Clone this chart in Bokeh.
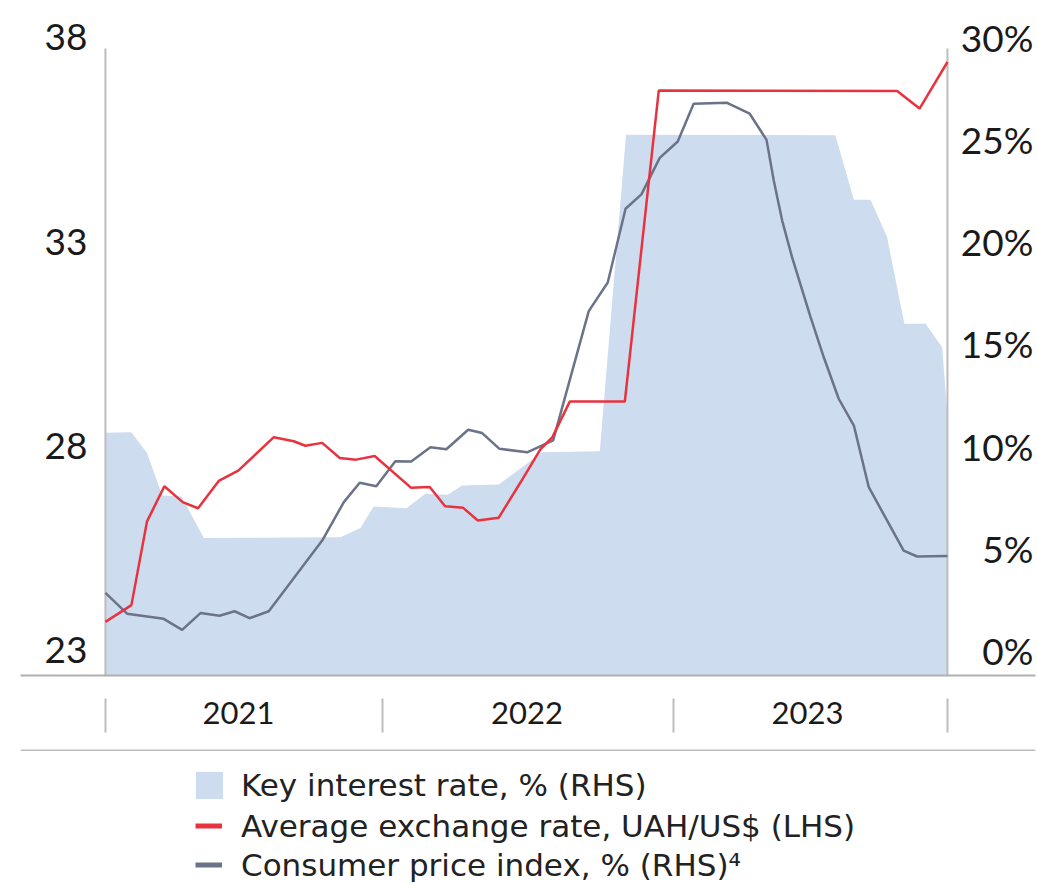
from bokeh.plotting import figure
from bokeh.layouts import column
from bokeh.models import (Range1d, FixedTicker, Legend, LegendItem,
                          ColumnDataSource, LabelSet)
from bokeh.core.properties import value
from bokeh.embed import file_html
from bokeh.resources import INLINE

# x positions: months since January 2021 (0) to December 2023 (35)
key_month = [0, 1.08, 1.73, 2.36, 3.16, 4.09, 9.77, 10.60, 11.15, 12.51, 13.30, 14.23,
             14.83, 16.35, 18.15, 20.55, 21.64, 30.34, 31.11, 31.80, 32.49, 33.21,
             34.09, 34.78, 35.0]
key_rate = [10.65, 10.68, 9.66, 7.59, 7.54, 5.51, 5.54, 6.00, 7.05, 6.96, 7.67, 7.62,
            8.07, 8.12, 9.70, 9.75, 25.24, 25.22, 22.06, 22.06, 20.23, 15.99,
            15.99, 14.84, 11.5]

fx_month = [0, 1.08, 1.73, 2.45, 3.21, 3.85, 4.71, 5.52, 7.00, 7.83, 8.31, 9.01, 9.74,
            10.42, 11.19, 12.71, 13.48, 14.12, 14.87, 15.48, 16.35, 17.25, 18.08,
            18.58, 19.30, 21.59, 23.00, 32.91, 33.84, 35.0]
fx_rate = [23.70, 24.11, 26.16, 27.02, 26.63, 26.48, 27.15, 27.40, 28.22, 28.12, 28.01,
           28.08, 27.71, 27.67, 27.76, 26.98, 27.00, 26.53, 26.49, 26.18, 26.25, 27.11,
           27.92, 28.22, 29.09, 29.09, 36.70, 36.69, 36.26, 37.40]

cpi_month = [0, 0.90, 2.42, 3.19, 3.95, 4.74, 5.37, 5.99, 6.79, 9.01, 9.91, 10.57, 11.26,
             12.05, 12.71, 13.51, 14.17, 15.08, 15.66, 16.38, 17.53, 18.61, 20.09, 20.88,
             21.62, 22.28, 23.04, 23.79, 24.45, 25.84, 26.78, 27.48, 27.78, 28.13, 28.54,
             29.31, 29.86, 30.48, 31.11, 31.73, 33.18, 33.74, 35.0]
cpi_rate = [2.82, 1.80, 1.55, 1.01, 1.83, 1.70, 1.92, 1.58, 1.92, 5.38, 7.26, 8.21, 8.04,
            9.26, 9.25, 9.95, 9.85, 10.80, 10.64, 9.87, 9.70, 10.28, 16.61, 18.01,
            21.62, 22.32, 24.11, 24.91, 26.76, 26.80, 26.27, 24.99, 23.00, 21.04, 19.25,
            16.31, 14.35, 12.32, 11.01, 7.99, 4.89, 4.60, 4.63]

years = ["2021", "2022", "2023"]
year_label_pos = [5.53, 17.52, 29.18]
year_bounds = [0, 11.5, 23.6, 35]
lhs_ticks = [23, 28, 33, 38]
rhs_ticks = [0, 5, 10, 15, 20, 25, 30]

labels = ["Key interest rate, % (RHS)",
          "Average exchange rate, UAH/US$ (LHS)",
          "Consumer price index, % (RHS)\u2074"]

BLUE = "#cddcee"
RED = "#e8333f"
SLATE = "#6b7389"
RULE = "#bdbdbd"
INK = "#1a1a1a"
FONT = "Lato"
LEG_FONT = "DejaVu Sans"

X_START, X_END = -3.53, 38.66
LHS_START, LHS_END = 22.388, 38.905
RHS_START, RHS_END = 2 * (LHS_START - 23), 2 * (LHS_END - 23)
AXIS_TOP = 37.73

p = figure(width=1037, height=749, output_backend="svg", toolbar_location=None,
           x_range=Range1d(X_START, X_END), y_range=Range1d(LHS_START, LHS_END),
           y_axis_location=None,
           min_border_left=20, min_border_right=2, min_border_top=0,
           min_border_bottom=74)
p.extra_y_ranges = {"rhs": Range1d(RHS_START, RHS_END)}
p.outline_line_color = None
p.grid.visible = False
p.background_fill_color = "white"
p.border_fill_color = "white"

area = p.varea(x=key_month, y1=RHS_START, y2=key_rate, y_range_name="rhs",
               fill_color=BLUE)
# vertical axis rules at the start and end of the period
p.segment(x0=[year_bounds[0], year_bounds[-1]], x1=[year_bounds[0], year_bounds[-1]],
          y0=LHS_START, y1=AXIS_TOP, line_color=RULE, line_width=2)
p.line(x=cpi_month, y=cpi_rate, y_range_name="rhs", line_color=SLATE, line_width=2.5)
p.line(x=fx_month, y=fx_rate, line_color=RED, line_width=2.5)

# left axis labels (LHS)
lsrc = ColumnDataSource(dict(x=[year_bounds[0]] * len(lhs_ticks), y=lhs_ticks,
                             text=[str(t) for t in lhs_ticks]))
p.add_layout(LabelSet(x="x", y="y", text="text", source=lsrc, x_offset=-18,
                      text_align="right", text_baseline="middle",
                      text_font=value(FONT), text_font_size=value("37px"),
                      text_color=INK))
# right axis labels (RHS)
rsrc = ColumnDataSource(dict(x=[year_bounds[-1]] * len(rhs_ticks), y=rhs_ticks,
                             text=[f"{t}%" for t in rhs_ticks]))
p.add_layout(LabelSet(x="x", y="y", text="text", source=rsrc, y_range_name="rhs",
                      x_offset=86, text_align="right", text_baseline="middle",
                      text_font=value(FONT), text_font_size=value("37px"),
                      text_color=INK))

# x axis: year labels with separators
xa = p.xaxis[0]
xa.ticker = FixedTicker(ticks=year_label_pos, minor_ticks=year_bounds)
xa.major_label_overrides = {m: y for m, y in zip(year_label_pos, years)}
xa.axis_line_color = "#b0b0b0"
xa.axis_line_width = 2
xa.major_tick_line_color = None
xa.major_tick_in = 0
xa.major_tick_out = 0
xa.minor_tick_line_color = RULE
xa.minor_tick_line_width = 2
xa.minor_tick_in = -23
xa.minor_tick_out = 57
xa.major_label_standoff = -31
xa.major_label_text_font = FONT
xa.major_label_text_font_size = "31px"
xa.major_label_text_color = INK

# legend panel (its frame spans the same columns as the chart above)
q = figure(width=1037, height=135, output_backend="svg", toolbar_location=None,
           x_range=Range1d(20, 1035), y_range=Range1d(135, 0),
           x_axis_location=None, y_axis_location=None,
           min_border_left=20, min_border_right=2,
           min_border_top=0, min_border_bottom=0)
q.grid.visible = False
q.outline_line_color = None
q.border_fill_color = "white"
q.background_fill_color = "white"
q.quad(left=[20], right=[1035], top=[-1], bottom=[1.5], fill_color=RULE,
       line_color=None)

# legend swatches (kept outside the visible range of the legend panel)
k_leg = q.varea(x=[-30, -20], y1=[0, 0], y2=[1, 1], fill_color=BLUE)
fx_leg = q.line(x=[-30, -20], y=[0, 0], line_color=RED, line_width=5)
cpi_leg = q.line(x=[-30, -20], y=[0, 0], line_color=SLATE, line_width=5)

common = dict(padding=0, margin=0, border_line_color=None, background_fill_alpha=0,
              label_text_font=LEG_FONT, label_text_font_size="31px",
              label_text_color="#222222", spacing=0)
leg1 = Legend(items=[LegendItem(label=labels[0], renderers=[k_leg])],
              location=(172, 81), glyph_width=34, glyph_height=34, label_height=34,
              label_standoff=15, **common)
leg2 = Legend(items=[LegendItem(label=labels[1], renderers=[fx_leg]),
                     LegendItem(label=labels[2], renderers=[cpi_leg])],
              location=(175, 0), glyph_width=27, glyph_height=39, label_height=39,
              label_standoff=19, **common)
q.add_layout(leg1, "center")
q.add_layout(leg2, "center")

open("out.html", "w").write(file_html(column(p, q, spacing=0), INLINE))
